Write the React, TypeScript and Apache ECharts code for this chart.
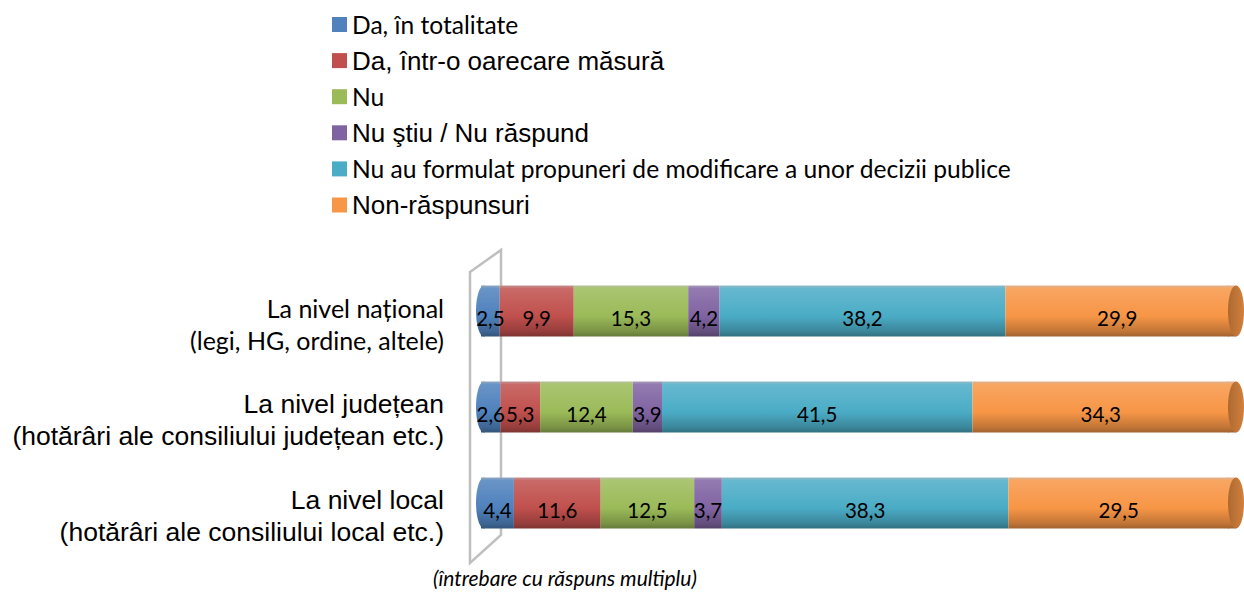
import React, { useEffect, useRef } from "react";
import * as echarts from "echarts";

const categories = [
  "La nivel național\n(legi, HG, ordine, altele)",
  "La nivel județean\n(hotărâri ale consiliului județean etc.)",
  "La nivel local\n(hotărâri ale consiliului local etc.)",
];

const seriesNames = [
  "Da, în totalitate",
  "Da, într-o oarecare măsură",
  "Nu",
  "Nu ştiu / Nu răspund",
  "Nu au formulat propuneri de modificare a unor decizii publice",
  "Non-răspunsuri",
];

const daTotal = [2.5, 2.6, 4.4];
const daMasura = [9.9, 5.3, 11.6];
const nu = [15.3, 12.4, 12.5];
const nuStiu = [4.2, 3.9, 3.7];
const nuAuFormulat = [38.2, 41.5, 38.3];
const nonRaspuns = [29.9, 34.3, 29.5];

const seriesValues = [daTotal, daMasura, nu, nuStiu, nuAuFormulat, nonRaspuns];
const colors = ["#4F81BD", "#C0504D", "#9BBB59", "#8064A2", "#4BACC6", "#F79646"];
const legendFonts = ["calibri", "arial", "calibri", "arial", "calibri", "arial"];

const CAL = "Lato, 'Open Sans', sans-serif";
const ARI = "'Liberation Sans', Arial, sans-serif";

function mix(hex: string, target: number, t: number) {
  const n = parseInt(hex.slice(1), 16);
  const r = (n >> 16) & 255, g = (n >> 8) & 255, b = n & 255;
  const f = (c: number) => Math.round(c + (target - c) * t);
  return `rgb(${f(r)},${f(g)},${f(b)})`;
}

function cylGrad(hex: string) {
  return new echarts.graphic.LinearGradient(0, 0, 0, 1, [
    { offset: 0, color: mix(hex, 200, 0.55) },
    { offset: 0.06, color: mix(hex, 255, 0.15) },
    { offset: 0.3, color: mix(hex, 255, 0.08) },
    { offset: 0.6, color: hex },
    { offset: 0.9, color: mix(hex, 0, 0.22) },
    { offset: 1, color: mix(hex, 0, 0.35) },
  ]);
}

const BAR_W = 51;

export default function App() {
  const ref = useRef<HTMLDivElement>(null);
  useEffect(() => {
    document.body.style.margin = "0";
    const chart = echarts.init(ref.current!, null, { renderer: "svg" });
    const totals = categories.map((_, i) =>
      seriesValues.reduce((s, arr) => s + arr[i], 0)
    );
    const fmt = (v: number) => v.toFixed(1).replace(".", ",");

    const barSeries = seriesNames.map((name, si) => ({
      name,
      type: "bar",
      stack: "total",
      barWidth: BAR_W,
      z: 3,
      data: seriesValues[si],
      itemStyle: { color: cylGrad(colors[si]) },
      label: {
        show: true,
        position: "inside",
        color: "#000",
        fontFamily: CAL,
        fontSize: 20.5,
        offset: [0, 7],
        formatter: (p: any) => fmt(p.value),
      },
    }));

    const leftCap = {
      type: "custom",
      name: "leftCap",
      z: 2,
      silent: true,
      data: categories.map((_, i) => [0, i]),
      renderItem: (params: any, api: any) => {
        const p = api.coord([api.value(0), api.value(1)]);
        return {
          type: "ellipse",
          shape: { cx: p[0] + 3, cy: p[1], rx: 8, ry: BAR_W / 2 },
          style: { fill: cylGrad(colors[0]) },
        };
      },
    };

    const rightCap = {
      type: "custom",
      name: "rightCap",
      z: 4,
      silent: true,
      data: categories.map((_, i) => [totals[i], i]),
      renderItem: (params: any, api: any) => {
        const p = api.coord([api.value(0), api.value(1)]);
        const c = colors[5];
        return {
          type: "group",
          children: [
            {
              type: "rect",
              shape: { x: p[0] - 1, y: p[1] - BAR_W / 2, width: 8, height: BAR_W },
              style: { fill: cylGrad(c) },
            },
            {
              type: "ellipse",
              shape: { cx: p[0] + 7, cy: p[1], rx: 8, ry: BAR_W / 2 },
              style: {
                fill: new echarts.graphic.LinearGradient(0, 0, 1, 0, [
                  { offset: 0, color: mix(c, 0, 0.3) },
                  { offset: 1, color: mix(c, 0, 0.15) },
                ]),
              },
            },
          ],
        };
      },
    };

    chart.setOption({
      animation: false,
      backgroundColor: "#fff",
      title: {
        text: "(întrebare cu răspuns multiplu)",
        left: 433,
        top: 566,
        padding: 0,
        textStyle: {
          fontFamily: CAL,
          fontStyle: "italic",
          fontWeight: "normal",
          fontSize: 21,
          lineHeight: 22,
          color: "#000",
        },
      },
      legend: {
        orient: "vertical",
        left: 327,
        top: 7,
        itemWidth: 15,
        itemHeight: 15,
        itemGap: 10.6,
        icon: "rect",
        selectedMode: false,
        data: seriesNames.map((name, i) => ({
          name,
          icon: "rect",
          itemStyle: { color: colors[i] },
          textStyle:
            legendFonts[i] === "calibri"
              ? { fontFamily: CAL, fontSize: 24.6, color: "#000", lineHeight: 22 }
              : { fontFamily: ARI, fontSize: 26, color: "#000", lineHeight: 22 },
        })),
      },
      grid: { left: 481, right: 15, top: 263, bottom: 41, containLabel: false },
      xAxis: { type: "value", min: 0, max: 100, show: false },
      yAxis: {
        type: "category",
        inverse: true,
        data: categories,
        axisLine: { show: false },
        axisTick: { show: false },
        splitLine: { show: false },
        axisLabel: {
          margin: 37,
          align: "right",
          padding: [26, 0, 0, 0],
          formatter: (v: string, idx: number) => {
            const [a, b] = v.split("\n");
            const st = idx === 0 ? "c" : "a";
            return `{${st}|${a}}\n{${st}|${b}}`;
          },
          rich: {
            c: { fontFamily: CAL, fontSize: 25, lineHeight: 32, color: "#000", align: "right" },
            a: { fontFamily: ARI, fontSize: 26.5, lineHeight: 32, color: "#000", align: "right" },
          },
        },
      },
      graphic: [
        {
          type: "polygon",
          z: 0,
          silent: true,
          shape: { points: [[470, 272], [501, 250], [501, 535], [470, 563]] },
          style: { fill: "none", stroke: "#BFBFBF", lineWidth: 2.5 },
        },
      ],
      series: [leftCap, ...barSeries, rightCap],
    });
    return () => chart.dispose();
  }, []);
  return <div ref={ref} style={{ width: 1244, height: 592 }} />;
}
